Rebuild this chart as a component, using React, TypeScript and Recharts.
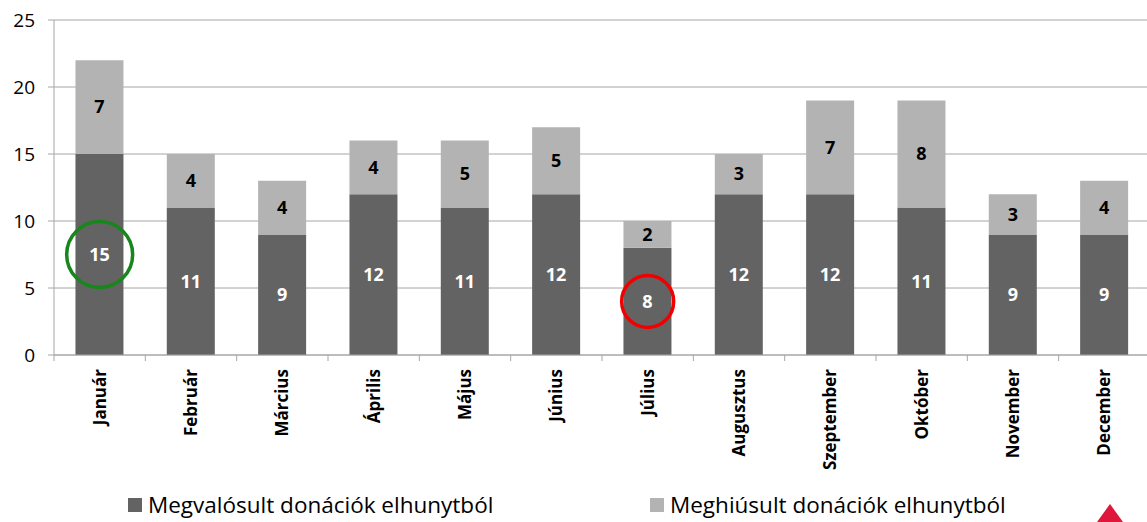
import React from "react";
import {
  BarChart,
  Bar,
  XAxis,
  YAxis,
  CartesianGrid,
  LabelList,
  Legend,
  ReferenceDot,
} from "recharts";

const MONTHS = [
  "Január",
  "Február",
  "Március",
  "Április",
  "Május",
  "Június",
  "Július",
  "Augusztus",
  "Szeptember",
  "Október",
  "November",
  "December",
];
const REALIZED = [15, 11, 9, 12, 11, 12, 8, 12, 12, 11, 9, 9];
const FAILED = [7, 4, 4, 4, 5, 5, 2, 3, 7, 8, 3, 4];
const Y_TICKS = [0, 5, 10, 15, 20, 25];

const SERIES_NAMES = ["Megvalósult donációk elhunytból", "Meghiúsult donációk elhunytból"];
const COLORS = ["#636363", "#b3b3b3"];
const GRID = "#a6a6a6";
const FONT = "'Open Sans', sans-serif";

const W = 1147;
const H = 522;
const Y_AXIS_W = 54;
const RIGHT = -3;
const BAND = (W - Y_AXIS_W - RIGHT) / MONTHS.length;

const data = MONTHS.map((m, i) => ({
  month: m,
  realized: REALIZED[i],
  failed: FAILED[i],
}));

const MonthTick = (props: any) => {
  const { x, y, payload, index } = props;
  const left = x - BAND / 2;
  return (
    <g>
      <line x1={left} y1={y} x2={left} y2={y + 6} stroke={GRID} />
      {index === MONTHS.length - 1 && (
        <line x1={x + BAND / 2} y1={y} x2={x + BAND / 2} y2={y + 6} stroke={GRID} />
      )}
      <text
        x={x}
        y={y + 14}
        transform={`rotate(-90, ${x}, ${y + 14})`}
        textAnchor="end"
        dy="0.36em"
        fontFamily={FONT}
        fontWeight="bold"
        fontSize={17}
        fill="#000"
      >
        {payload.value}
      </text>
    </g>
  );
};

const LegendBox = () => (
  <div style={{ position: "relative", width: W, height: 47, fontFamily: FONT, fontSize: 22.5 }}>
    {SERIES_NAMES.map((name, i) => (
      <div
        key={name}
        style={{
          position: "absolute",
          left: i === 0 ? 128 : 650,
          top: 14,
          display: "flex",
          alignItems: "center",
          whiteSpace: "nowrap",
          color: "#000",
        }}
      >
        <span
          style={{
            display: "inline-block",
            width: 14,
            height: 14,
            background: COLORS[i],
            marginRight: 6,
          }}
        />
        {name}
      </div>
    ))}
  </div>
);

export default function App() {
  return (
    <div style={{ position: "relative", width: W, height: H, background: "#fff", overflow: "hidden" }}>
      <style>{"body{margin:0}"}</style>
      <BarChart
        width={W}
        height={H}
        data={data}
        margin={{ top: 20, right: RIGHT, bottom: 0, left: 0 }}
        barCategoryGap="23.5%"
      >
        <CartesianGrid vertical={false} stroke={GRID} />
        <YAxis
          width={Y_AXIS_W}
          domain={[0, 25]}
          ticks={Y_TICKS}
          interval={0}
          axisLine={{ stroke: GRID }}
          tickLine={{ stroke: GRID }}
          tickSize={6}
          tickMargin={13}
          tick={{ fill: "#000", fontSize: 19, fontFamily: FONT }}
        />
        <XAxis
          dataKey="month"
          height={120}
          interval={0}
          tickSize={0}
          tickMargin={0}
          axisLine={{ stroke: GRID }}
          tickLine={false}
          tick={<MonthTick />}
        />
        <Legend verticalAlign="bottom" height={47} content={<LegendBox />} />
        <Bar dataKey="realized" name={SERIES_NAMES[0]} stackId="a" fill={COLORS[0]} isAnimationActive={false}>
          <LabelList
            dataKey="realized"
            position="center"
            fill="#fff"
            fontWeight="bold"
            fontSize={18}
            fontFamily={FONT}
          />
        </Bar>
        <Bar dataKey="failed" name={SERIES_NAMES[1]} stackId="a" fill={COLORS[1]} isAnimationActive={false}>
          <LabelList
            dataKey="failed"
            position="center"
            fill="#000"
            fontWeight="bold"
            fontSize={18}
            fontFamily={FONT}
          />
        </Bar>
        <ReferenceDot x="Január" y={7.5} r={33} fill="none" stroke="#17861b" strokeWidth={3.5} />
        <ReferenceDot x="Július" y={4} r={26} fill="none" stroke="#f00000" strokeWidth={3.5} />
      </BarChart>
      <svg
        style={{ position: "absolute", left: 1097, top: 504 }}
        width={26}
        height={18}
      >
        <polygon points="13,0 26,18 0,18" fill="#e0173c" />
      </svg>
    </div>
  );
}
